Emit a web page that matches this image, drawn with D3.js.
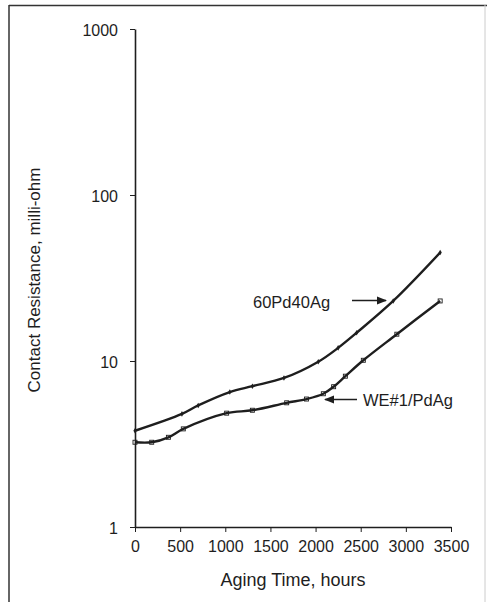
<!DOCTYPE html>
<html>
<head>
<meta charset="utf-8">
<script src="https://cdn.jsdelivr.net/npm/d3@7"></script>
<style>
  html, body { margin: 0; padding: 0; background: #fff; }
  svg { display: block; font-family: "Liberation Sans", Arial, sans-serif; }
</style>
</head>
<body>
<div id="chart"></div>
<script>
// Readings (hours, milli-ohm) taken off the scanned plot
const pdAgHours   = [0, 520, 700, 1050, 1300, 1650, 2030, 2250, 2455, 2860, 3380];
const pdAgValues  = [3.8, 4.8, 5.4, 6.5, 7.05, 7.9, 9.9, 12.0, 14.8, 23, 45];
const weHours     = [0, 185, 370, 535, 1015, 1300, 1680, 1900, 2086, 2200, 2330, 2529, 2900, 3380];
const weValues    = [3.24, 3.24, 3.47, 3.9, 4.85, 5.05, 5.6, 5.9, 6.35, 7.0, 8.1, 10.1, 14.5, 23];

const xTicks = [0, 500, 1000, 1500, 2000, 2500, 3000, 3500];
const yTicks = [1, 10, 100, 1000];
const seriesNames = ["60Pd40Ag", "WE#1/PdAg"];

const width = 487, height = 602;
const margin = { top: 30, right: 36, bottom: 75, left: 135 };
const ink = "#1e1e1e";

const svg = d3.select("#chart").append("svg")
  .attr("width", width)
  .attr("height", height);

// scanned page frame
svg.append("line").attr("x1", 9).attr("x2", width).attr("y1", 5.5).attr("y2", 5.5)
  .attr("stroke", "#333").attr("stroke-width", 1.5);
svg.append("line").attr("x1", 9).attr("x2", 9).attr("y1", 5).attr("y2", height)
  .attr("stroke", "#333").attr("stroke-width", 1.5);
svg.append("line").attr("x1", 485).attr("x2", 485).attr("y1", 5).attr("y2", height)
  .attr("stroke", "#ccc").attr("stroke-width", 1);

const x = d3.scaleLinear().domain([0, 3500]).range([margin.left, width - margin.right]);
const y = d3.scaleLog().domain([1, 1000]).range([height - margin.bottom, margin.top - 1]);

// minor ticks
const xMinor = d3.range(0, 3501, 100).filter(d => d % 500 !== 0);
const yMinor = [];
[1, 10, 100].forEach(dec => { for (let k = 2; k <= 9; k++) yMinor.push(dec * k); });

const gx = svg.append("g")
  .attr("transform", `translate(0,${y(1)})`);
gx.call(d3.axisBottom(x).tickValues(xMinor).tickSize(3).tickFormat(""));
gx.call(d3.axisBottom(x).tickValues(xTicks).tickSize(5).tickSizeOuter(0).tickPadding(9).tickFormat(d3.format("d")));

const gy = svg.append("g")
  .attr("transform", `translate(${x(0)},0)`);
gy.call(d3.axisLeft(y).tickValues(yMinor).tickSize(4).tickFormat(""));
gy.call(d3.axisLeft(y).tickValues(yTicks).tickSize(5).tickSizeOuter(0).tickPadding(12).tickFormat(d3.format("d")));

svg.selectAll(".domain").attr("stroke", ink).attr("stroke-width", 1.6);
svg.selectAll(".tick line").attr("stroke", ink).attr("stroke-width", 1);
svg.selectAll(".tick text").attr("fill", ink).style("font-size", "16px");
gy.selectAll(".tick text").attr("dy", "0.4em");

// axis titles
svg.append("text")
  .attr("x", 293).attr("y", 586)
  .attr("text-anchor", "middle")
  .attr("fill", ink)
  .style("font-size", "18px")
  .text("Aging Time, hours");

svg.append("text")
  .attr("transform", "translate(40,280) rotate(-90)")
  .attr("text-anchor", "middle")
  .attr("fill", ink)
  .style("font-size", "17px")
  .text("Contact Resistance, milli-ohm");

// curves
const line = d3.line()
  .x(d => x(d[0]))
  .y(d => y(d[1]))
  .curve(d3.curveCatmullRom.alpha(0.5));

const upper = pdAgHours.map((h, i) => [h, pdAgValues[i]]);
const lower = weHours.map((h, i) => [h, weValues[i]]);

[upper, lower].forEach(pts => {
  svg.append("path")
    .datum(pts)
    .attr("fill", "none")
    .attr("stroke", ink)
    .attr("stroke-width", 2.4)
    .attr("stroke-linejoin", "round")
    .attr("d", line);
});

// markers: small diamonds / small squares, nearly hidden under the line as in the scan
svg.append("g").selectAll("path")
  .data(upper)
  .join("path")
  .attr("transform", d => `translate(${x(d[0])},${y(d[1])})`)
  .attr("d", d3.symbol(d3.symbolDiamond, 9))
  .attr("fill", ink);

svg.append("g").selectAll("rect")
  .data(lower)
  .join("rect")
  .attr("x", d => x(d[0]) - 2)
  .attr("y", d => y(d[1]) - 2)
  .attr("width", 4).attr("height", 4)
  .attr("fill", "none")
  .attr("stroke", ink)
  .attr("stroke-width", 0.9);

// labels with arrows
const defs = svg.append("defs");
defs.append("marker")
  .attr("id", "head")
  .attr("viewBox", "0 0 10 10")
  .attr("refX", 9).attr("refY", 5)
  .attr("markerWidth", 7).attr("markerHeight", 7)
  .attr("orient", "auto-start-reverse")
  .append("path").attr("d", "M0,1 L10,5 L0,9 Z").attr("fill", ink);

svg.append("text")
  .attr("x", 253).attr("y", 308)
  .attr("fill", ink)
  .style("font-size", "16.5px")
  .text(seriesNames[0]);
svg.append("line")
  .attr("x1", 352).attr("y1", 300.5).attr("x2", 386).attr("y2", 300.5)
  .attr("stroke", ink).attr("stroke-width", 1.5)
  .attr("marker-end", "url(#head)");

svg.append("text")
  .attr("x", 363).attr("y", 406)
  .attr("fill", ink)
  .style("font-size", "16.5px")
  .text(seriesNames[1]);
svg.append("line")
  .attr("x1", 357).attr("y1", 399.5).attr("x2", 325).attr("y2", 399.5)
  .attr("stroke", ink).attr("stroke-width", 1.5)
  .attr("marker-end", "url(#head)");
</script>
</body>
</html>
